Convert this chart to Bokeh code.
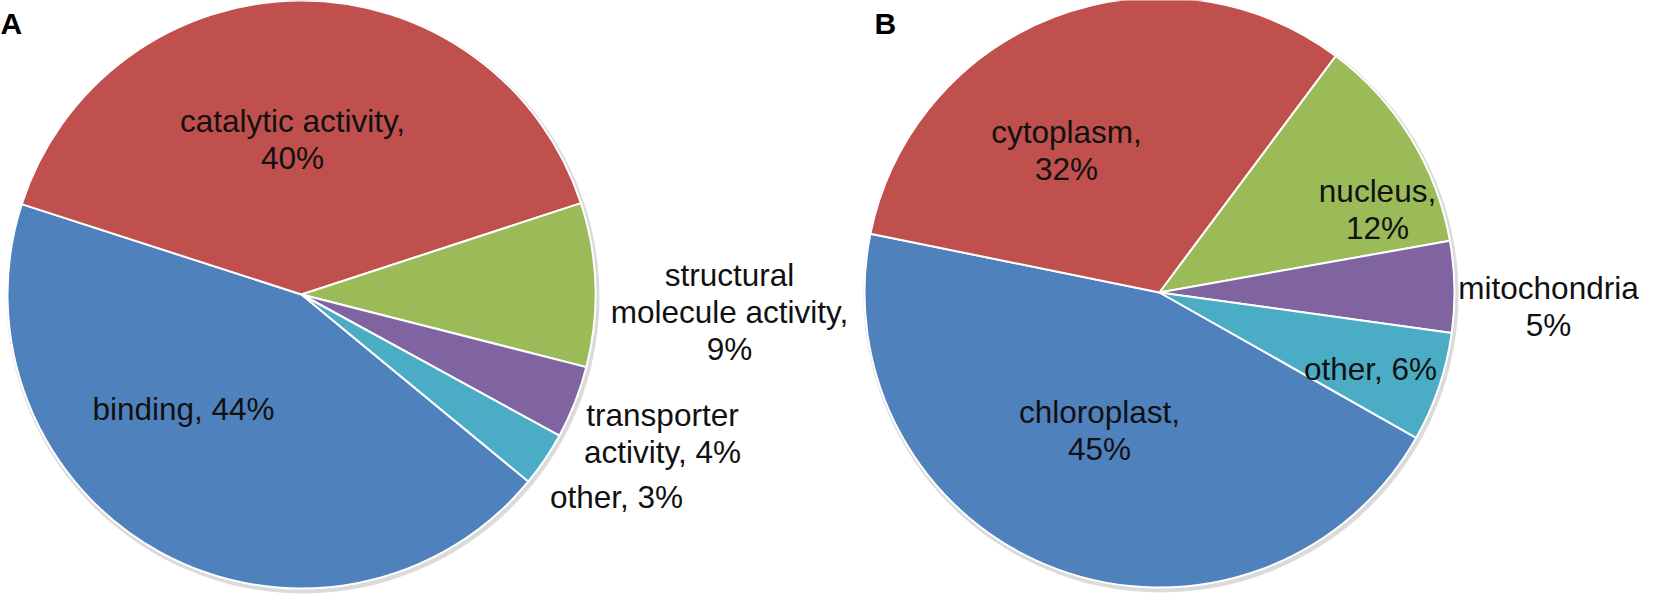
import numpy as np
from bokeh.plotting import figure
from bokeh.models import Range1d
from bokeh.embed import file_html
from bokeh.resources import INLINE
from bokeh.core.properties import value

# ---------------- data ----------------
categories_A = ["binding", "catalytic activity", "structural molecule activity",
                "transporter activity", "other"]
values_A = [44, 40, 9, 4, 3]
label_lines_A = [["binding, 44%"], ["catalytic activity,", "40%"],
                 ["structural", "molecule activity,", "9%"],
                 ["transporter", "activity, 4%"], ["other, 3%"]]

categories_B = ["chloroplast", "cytoplasm", "nucleus", "mitochondria", "other"]
values_B = [45, 32, 12, 5, 6]
label_lines_B = [["chloroplast,", "45%"], ["cytoplasm,", "32%"], ["nucleus,", "12%"],
                 ["mitochondria", "5%"], ["other, 6%"]]

panel_letters = ["A", "B"]

# ---------------- styles / layout ----------------
colors = ["#4F81BD", "#C0504D", "#9BBB59", "#8064A2", "#4BACC6"]
FONT = "Liberation Sans"
FS = 31.5
LINE_H = 37
MARGIN = 8
W, H = 1655 - 2 * MARGIN, 615 - 2 * MARGIN

pies = [
    dict(cx=309, cy=302, r=294, start_deg=-39.5, values=values_A, lines=label_lines_A,
         # label anchors: (dx, dy of first baseline) relative to pie centre, in px
         offsets=[(-118, 114), (-9, -174), (428, -20), (361, 120), (315, 202)]),
    dict(cx=1167, cy=300, r=295, start_deg=-29.5, values=values_B, lines=label_lines_B,
         offsets=[(-60, 119), (-93, -161), (218, -102), (389, -5), (211, 76)]),
]
letter_pos = [(8, 31), (882, 31)]

p = figure(width=W, height=H, output_backend="svg", toolbar_location=None,
           x_range=Range1d(MARGIN, MARGIN + W), y_range=Range1d(-(MARGIN + H), -MARGIN),
           min_border=0)
p.axis.visible = False
p.grid.visible = False
p.outline_line_color = None
p.background_fill_color = "white"
p.border_fill_color = "white"

for pie in pies:
    vals = np.array(pie["values"], dtype=float)
    frac = vals / vals.sum()
    cum = np.concatenate([[0.0], np.cumsum(frac)])
    off = np.deg2rad(pie["start_deg"])
    starts = off - cum[:-1] * 2 * np.pi
    ends = off - cum[1:] * 2 * np.pi
    cx, cy, r = pie["cx"], -pie["cy"], pie["r"]

    # soft shadow
    p.circle(x=[cx + 1.5], y=[cy - 2.5], radius=r + 2.5, fill_color="#bdbdbd",
             fill_alpha=0.55, line_color=None)
    p.circle(x=[cx + 0.8], y=[cy - 1.2], radius=r + 1.5, fill_color="#d9d9d9",
             fill_alpha=0.8, line_color=None)

    p.wedge(x=[cx] * len(vals), y=[cy] * len(vals), radius=r,
            start_angle=list(starts), end_angle=list(ends), direction="clock",
            fill_color=colors[:len(vals)], line_color="white", line_width=2)

    xs, ys, ts = [], [], []
    for lines, (dx, dy) in zip(pie["lines"], pie["offsets"]):
        for k, t in enumerate(lines):
            xs.append(pie["cx"] + dx)
            ys.append(-(pie["cy"] + dy + k * LINE_H))
            ts.append(t)
    p.text(x=xs, y=ys, text=ts, text_font=value(FONT), text_font_size=f"{FS}px",
           text_align="center", text_baseline="alphabetic", text_color="#111111")

p.text(x=[lp[0] for lp in letter_pos], y=[-lp[1] for lp in letter_pos], text=panel_letters,
       text_font=value(FONT), text_font_size="30px", text_font_style="bold",
       text_align="left", text_baseline="alphabetic", text_color="black")

open("out.html", "w").write(file_html(p, INLINE))
